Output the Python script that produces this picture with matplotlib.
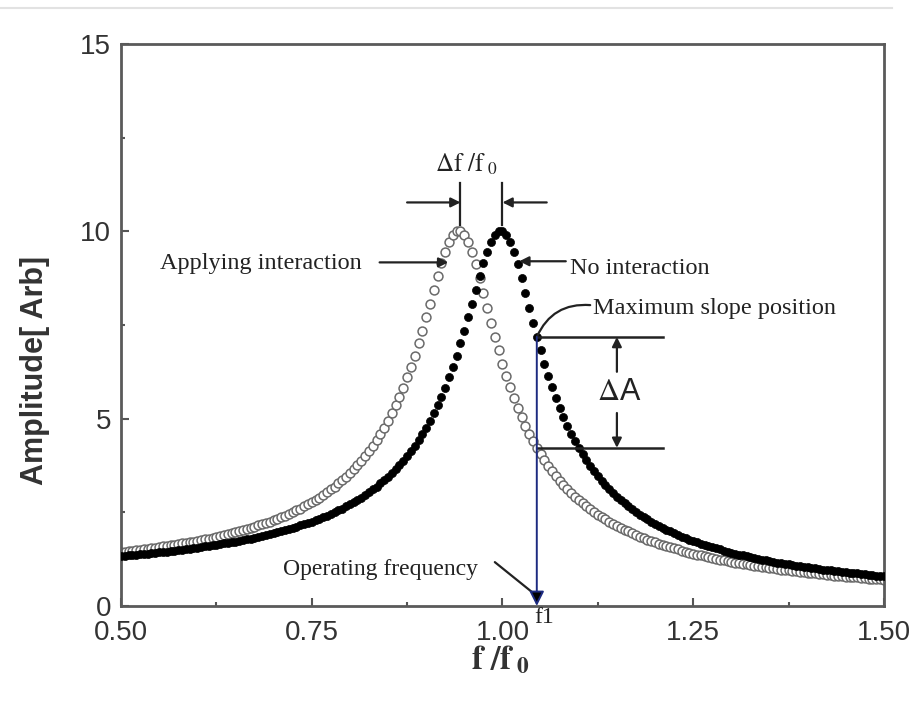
import numpy as np
import matplotlib.pyplot as plt
from matplotlib.lines import Line2D

plt.rcParams['mathtext.fontset'] = 'stix'

# frequency grid f/f0, sampled every 0.005
freq = np.round(np.arange(0.5, 1.5001, 0.005), 3)

# amplitude with no interaction (filled circles)
amp_free = [
    1.33, 1.34, 1.35, 1.36, 1.37, 1.38, 1.39, 1.40, 1.41, 1.42,
    1.43, 1.44, 1.45, 1.46, 1.48, 1.49, 1.50, 1.51, 1.53, 1.54,
    1.56, 1.57, 1.59, 1.60, 1.62, 1.63, 1.65, 1.67, 1.68, 1.70,
    1.72, 1.74, 1.76, 1.78, 1.80, 1.82, 1.85, 1.87, 1.89, 1.92,
    1.94, 1.97, 2.00, 2.02, 2.05, 2.08, 2.12, 2.15, 2.18, 2.22,
    2.25, 2.29, 2.33, 2.37, 2.41, 2.46, 2.50, 2.55, 2.60, 2.66,
    2.71, 2.77, 2.83, 2.89, 2.96, 3.03, 3.11, 3.18, 3.27, 3.35,
    3.45, 3.54, 3.65, 3.76, 3.87, 4.00, 4.13, 4.27, 4.42, 4.58,
    4.76, 4.94, 5.14, 5.36, 5.59, 5.83, 6.10, 6.38, 6.68, 7.01,
    7.35, 7.70, 8.07, 8.44, 8.80, 9.15, 9.46, 9.72, 9.90, 10.00,
    10.00, 9.90, 9.71, 9.44, 9.12, 8.75, 8.36, 7.96, 7.56, 7.18,
    6.82, 6.47, 6.14, 5.84, 5.55, 5.29, 5.04, 4.81, 4.60, 4.40,
    4.22, 4.05, 3.89, 3.74, 3.60, 3.47, 3.34, 3.23, 3.12, 3.02,
    2.92, 2.83, 2.74, 2.66, 2.58, 2.51, 2.44, 2.37, 2.31, 2.25,
    2.19, 2.14, 2.09, 2.03, 1.99, 1.94, 1.90, 1.85, 1.81, 1.77,
    1.74, 1.70, 1.66, 1.63, 1.60, 1.57, 1.54, 1.51, 1.48, 1.45,
    1.42, 1.40, 1.37, 1.35, 1.33, 1.30, 1.28, 1.26, 1.24, 1.22,
    1.20, 1.18, 1.16, 1.14, 1.13, 1.11, 1.09, 1.08, 1.06, 1.05,
    1.03, 1.02, 1.00, 0.99, 0.97, 0.96, 0.95, 0.94, 0.92, 0.91,
    0.90, 0.89, 0.88, 0.87, 0.85, 0.84, 0.83, 0.82, 0.81, 0.80,
    0.79,
]

# amplitude while applying interaction (open circles)
amp_inter = [
    1.44, 1.45, 1.46, 1.48, 1.49, 1.50, 1.51, 1.53, 1.54, 1.56,
    1.57, 1.59, 1.60, 1.62, 1.63, 1.65, 1.67, 1.68, 1.70, 1.72,
    1.74, 1.76, 1.78, 1.80, 1.82, 1.85, 1.87, 1.89, 1.92, 1.94,
    1.97, 2.00, 2.02, 2.05, 2.08, 2.12, 2.15, 2.18, 2.22, 2.25,
    2.29, 2.33, 2.37, 2.41, 2.46, 2.50, 2.55, 2.60, 2.66, 2.71,
    2.77, 2.83, 2.89, 2.96, 3.03, 3.11, 3.18, 3.27, 3.35, 3.45,
    3.54, 3.65, 3.76, 3.87, 4.00, 4.13, 4.27, 4.42, 4.58, 4.76,
    4.94, 5.14, 5.36, 5.59, 5.83, 6.10, 6.38, 6.68, 7.01, 7.35,
    7.70, 8.07, 8.44, 8.80, 9.15, 9.46, 9.72, 9.90, 10.00, 10.00,
    9.90, 9.71, 9.44, 9.12, 8.75, 8.36, 7.96, 7.56, 7.18, 6.82,
    6.47, 6.14, 5.84, 5.55, 5.29, 5.04, 4.81, 4.60, 4.40, 4.22,
    4.05, 3.89, 3.74, 3.60, 3.47, 3.34, 3.23, 3.12, 3.02, 2.92,
    2.83, 2.74, 2.66, 2.58, 2.51, 2.44, 2.37, 2.31, 2.25, 2.19,
    2.14, 2.09, 2.03, 1.99, 1.94, 1.90, 1.85, 1.81, 1.77, 1.74,
    1.70, 1.66, 1.63, 1.60, 1.57, 1.54, 1.51, 1.48, 1.45, 1.42,
    1.40, 1.37, 1.35, 1.33, 1.30, 1.28, 1.26, 1.24, 1.22, 1.20,
    1.18, 1.16, 1.14, 1.13, 1.11, 1.09, 1.08, 1.06, 1.05, 1.03,
    1.02, 1.00, 0.99, 0.97, 0.96, 0.95, 0.94, 0.92, 0.91, 0.90,
    0.89, 0.88, 0.87, 0.85, 0.84, 0.83, 0.82, 0.81, 0.80, 0.79,
    0.78, 0.78, 0.77, 0.76, 0.75, 0.74, 0.73, 0.72, 0.72, 0.71,
    0.70,
]

x_ticks = [0.50, 0.75, 1.00, 1.25, 1.50]
y_ticks = [0, 5, 10, 15]
f_peak_inter = 0.945
f_peak_free = 1.0
f_operating = 1.045

serif = 'Liberation Serif'
sans = 'Liberation Sans'
txt_col = '#222222'

fig = plt.figure(figsize=(9.2, 7.02), dpi=100)
fig.add_artist(Line2D([0.0, 0.97], [0.988, 0.988], color='#e2e2e2', lw=1.5))
ax = fig.add_axes([0.1315, 0.1368, 0.8293, 0.8006])

ax.plot(freq, amp_inter, 'o', ms=6.4, mfc='white', mec='#6a6a6a', mew=1.1, zorder=2)
ax.plot(freq, amp_free, 'o', ms=5.8, mfc='black', mec='black', mew=0.5, zorder=3)

ax.set_xlim(0.5, 1.5)
ax.set_ylim(0, 15)
ax.set_xticks(x_ticks)
ax.set_xticklabels([f'{v:.2f}' for v in x_ticks])
ax.set_yticks(y_ticks)
ax.set_xticks([0.625, 0.875, 1.125, 1.375], minor=True)
ax.set_yticks([2.5, 7.5, 12.5], minor=True)
ax.tick_params(which='both', direction='in', color='#555555', width=1.5)
ax.tick_params(which='major', length=6)
ax.tick_params(which='minor', length=3)
ax.tick_params(axis='x', pad=10)
ax.tick_params(axis='y', pad=7)
for lab in ax.get_xticklabels() + ax.get_yticklabels():
    lab.set_fontfamily(sans)
    lab.set_fontsize(20)
    lab.set_color('#333333')
for sp in ax.spines.values():
    sp.set_color('#5a5a5a')
    sp.set_linewidth(2.0)

fig.text(35 / 920, 0.473, 'Amplitude[ Arb]', rotation=90, ha='center', va='center',
         family=sans, fontweight='bold', fontsize=22, color='#333333')
fig.text(500 / 920, 1 - 660 / 702, r'$\mathbf{f\ /f}_{\ \mathbf{0}}$', ha='center', va='center',
         fontsize=24, color='#333333')

arrow = dict(arrowstyle='-|>', color=txt_col, lw=1.6, mutation_scale=14, shrinkA=0, shrinkB=0)
line = dict(arrowstyle='-', color=txt_col, lw=1.6, shrinkA=0, shrinkB=0)

# peak shift marker
for fp in (f_peak_inter, f_peak_free):
    ax.plot([fp, fp], [10.16, 11.28], color=txt_col, lw=1.6, zorder=4)
ax.annotate('', xy=(f_peak_inter, 10.77), xytext=(0.875, 10.77), arrowprops=arrow)
ax.annotate('', xy=(f_peak_free, 10.77), xytext=(1.058, 10.77), arrowprops=arrow)
ax.text(0.952, 11.78, r'$\Delta\mathrm{f}\ /\mathrm{f}_{\ 0}$', ha='center', va='center',
        fontsize=18, color=txt_col)

# curve labels
ax.annotate('', xy=(0.929, 9.17), xytext=(0.839, 9.17), arrowprops=arrow)
ax.text(0.551, 9.15, 'Applying interaction', ha='left', va='center',
        family=serif, fontsize=17.5, color=txt_col)
ax.annotate('', xy=(1.022, 9.2), xytext=(1.083, 9.2), arrowprops=arrow)
ax.text(1.088, 9.02, 'No interaction', ha='left', va='center',
        family=serif, fontsize=17.5, color=txt_col)

# operating point and amplitude change
i_op = int(np.argmin(np.abs(freq - f_operating)))
a_top = amp_free[i_op]
a_low = amp_inter[i_op]
ax.text(1.119, 7.95, 'Maximum slope position', ha='left', va='center',
        family=serif, fontsize=17.5, color=txt_col)
ax.annotate('', xy=(f_operating, a_top), xytext=(1.115, 8.03),
            arrowprops=dict(arrowstyle='-', color=txt_col, lw=1.6,
                            connectionstyle='arc3,rad=0.35', shrinkA=0, shrinkB=0))
ax.plot([f_operating, 1.21], [a_top, a_top], color=txt_col, lw=1.8, zorder=4)
ax.plot([f_operating, 1.21], [a_low, a_low], color=txt_col, lw=1.8, zorder=4)
ax.annotate('', xy=(1.15, a_top), xytext=(1.15, 6.25), arrowprops=arrow)
ax.annotate('', xy=(1.15, a_low), xytext=(1.15, 5.15), arrowprops=arrow)
ax.text(1.153, 5.72, r'$\Delta$A', ha='center', va='center', family=sans,
        fontsize=22, color=txt_col)

ax.annotate('', xy=(f_operating, 0.0), xytext=(f_operating, a_top),
            arrowprops=dict(arrowstyle='-|>', color='#1c2a80', lw=1.4, mutation_scale=22,
                            shrinkA=0, shrinkB=0, fc='black', ec='#1c2a80'), zorder=5)
ax.text(f_operating + 0.01, -0.3, 'f1', ha='center', va='center', family=serif,
        fontsize=17, color=txt_col, clip_on=False)

ax.text(0.712, 0.96, 'Operating frequency', ha='left', va='center', family=serif,
        fontsize=17, color=txt_col)
ax.annotate('', xy=(1.04, 0.35), xytext=(0.99, 1.17), arrowprops=line)

fig.savefig('out.png', dpi=100)
